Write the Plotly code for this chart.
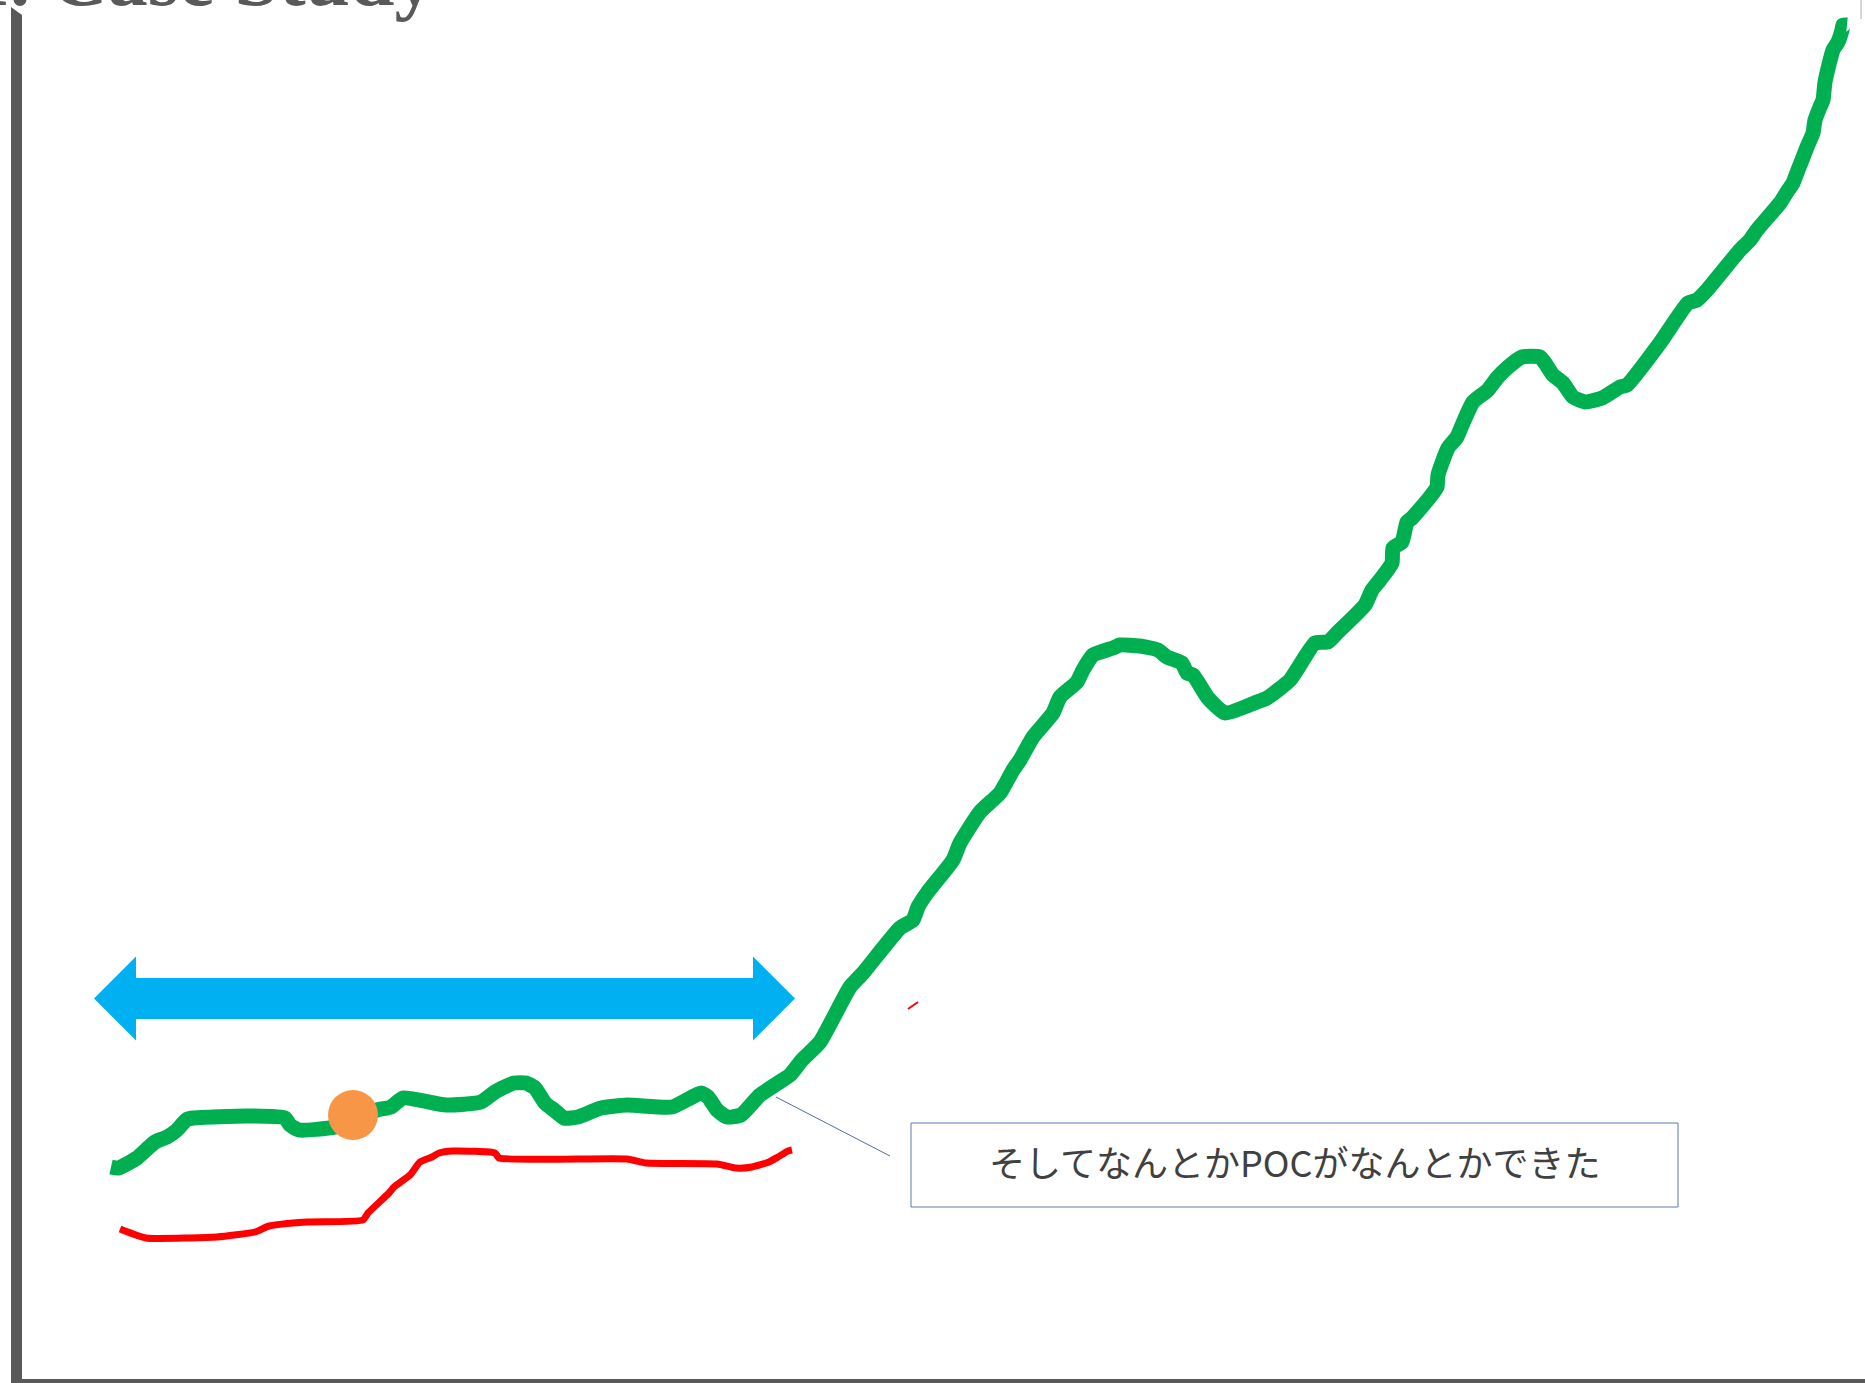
import plotly.graph_objects as go

# Canvas units: one unit per pixel of the slide, origin at bottom-left
W, H = 1865, 1383

# Growth curve (green)
growth_x = [111, 118, 137, 148, 155, 167, 177, 186, 193, 248, 285, 290, 299, 335, 377, 391, 403,
            446, 481, 495, 514, 526, 535, 545, 554, 564, 578, 601, 627, 672, 701, 708, 717, 727,
            741, 760, 778, 790, 802, 820, 850, 863, 900, 913, 918, 927, 953, 960, 980, 1000, 1013,
            1020, 1033, 1053, 1060, 1077, 1083, 1093, 1113, 1120, 1140, 1158, 1167, 1182, 1187,
            1193, 1208, 1225, 1257, 1267, 1290, 1315, 1328, 1337, 1365, 1372, 1380, 1392, 1393,
            1402, 1407, 1412, 1430, 1437, 1438, 1448, 1457, 1463, 1473, 1488, 1497, 1507, 1522,
            1540, 1545, 1553, 1563, 1573, 1585, 1602, 1620, 1627, 1660, 1688, 1697, 1707, 1740,
            1750, 1757, 1780, 1787, 1793, 1798, 1802, 1807, 1813, 1815, 1820, 1823, 1825, 1833,
            1838, 1842, 1843, 1847]
growth_y = [216, 215, 225, 235, 241, 246, 253, 263, 265, 267, 265, 258, 253, 256, 273, 276, 285,
            278, 281, 291, 300, 300, 295, 280, 273, 265, 266, 275, 278, 276, 290, 286, 273, 266,
            268, 288, 300, 308, 323, 341, 396, 410, 455, 463, 476, 490, 523, 540, 571, 590, 613,
            623, 646, 670, 686, 701, 713, 728, 735, 738, 737, 733, 726, 720, 710,
            708, 685, 670, 681, 685, 703, 740, 741, 750, 778, 793, 803, 820, 835,
            841, 861, 865, 886, 896, 908, 935, 946, 960, 981, 993, 1005, 1015, 1026,
            1026, 1020, 1008, 1000, 986, 981, 985, 996, 998, 1040, 1080, 1083, 1093, 1133,
            1143, 1153, 1180, 1191, 1200, 1213, 1223, 1236, 1250, 1263, 1276, 1283, 1301, 1333,
            1341, 1353, 1358, 1358]

# Baseline curve (red)
base_x = [120, 146, 189, 217, 255, 269, 307, 363, 368, 389, 394, 410, 420, 432, 439, 453, 495,
          499, 627, 646, 717, 736, 752, 769, 778, 788, 792]
base_y = [154, 145, 145, 146, 151, 157, 161, 163, 170, 190, 196, 208, 221, 226, 230, 232, 230,
          225, 224, 220, 219, 215, 216, 221, 226, 232, 233]

# Small red stroke
tick_x = [908, 918]
tick_y = [374, 381]

# Highlighted point on the green curve
marker_x = [353]
marker_y = [268]

# Double-headed span arrow: tips, centre line, shaft and head half-heights
span_left, span_right = 94, 795
span_center = 384.5
shaft_half, head_half, head_len = 20.5, 42, 42

# Callout box and its leader line
box_x = [911, 1678]
box_y = [176, 260]
leader_x = [776, 890]
leader_y = [286, 227]
callout_text = "そしてなんとかPOCがなんとかできた"

title_text = "1. Case Study"

GREEN = "#00B050"
RED = "#FF0000"
BLUE = "#00B0F0"
ORANGE = "#F79646"
AXIS = "#595959"

fig = go.Figure()

# Span arrow as a filled polygon
ax_ = [span_left,
       span_left + head_len, span_left + head_len,
       span_right - head_len, span_right - head_len,
       span_right,
       span_right - head_len, span_right - head_len,
       span_left + head_len, span_left + head_len,
       span_left]
ay_ = [span_center,
       span_center + head_half, span_center + shaft_half,
       span_center + shaft_half, span_center + head_half,
       span_center,
       span_center - head_half, span_center - shaft_half,
       span_center - shaft_half, span_center - head_half,
       span_center]
fig.add_trace(go.Scatter(x=ax_, y=ay_, mode="lines", fill="toself", fillcolor=BLUE,
                         line=dict(color=BLUE, width=0), hoverinfo="skip"))

fig.add_trace(go.Scatter(x=base_x, y=base_y, mode="lines",
                         line=dict(color=RED, width=7, shape="spline", smoothing=0.5),
                         hoverinfo="skip"))
fig.add_trace(go.Scatter(x=tick_x, y=tick_y, mode="lines",
                         line=dict(color=RED, width=2), hoverinfo="skip"))
fig.add_trace(go.Scatter(x=growth_x, y=growth_y, mode="lines",
                         line=dict(color=GREEN, width=15, shape="spline", smoothing=0.5),
                         hoverinfo="skip"))
fig.add_trace(go.Scatter(x=marker_x, y=marker_y, mode="markers",
                         marker=dict(color=ORANGE, size=50, line=dict(width=0)),
                         hoverinfo="skip"))
fig.add_trace(go.Scatter(x=leader_x, y=leader_y, mode="lines",
                         line=dict(color="#4F6FA0", width=1), hoverinfo="skip"))

shapes = [
    # callout frame
    dict(type="rect", xref="x", yref="y", x0=box_x[0], x1=box_x[1], y0=box_y[0], y1=box_y[1],
         line=dict(color="#5A7AAE", width=1), fillcolor="rgba(255,255,255,0)"),
    # vertical axis bar with slanted top
    dict(type="path", xref="x", yref="y",
         path="M 11,0 L 11,1376 L 22,1368 L 22,0 Z",
         fillcolor=AXIS, line=dict(width=0)),
    # horizontal axis bar
    dict(type="rect", xref="x", yref="y", x0=11, x1=W, y0=0, y1=4,
         fillcolor=AXIS, line=dict(width=0)),
    # frame edge at the upper right
    dict(type="line", xref="x", yref="y", x0=1861, x1=1861, y0=H, y1=H - 19,
         line=dict(color="#C8C8C8", width=1.5)),
]

annotations = [
    dict(text=callout_text, x=(box_x[0] + box_x[1]) / 2, y=(box_y[0] + box_y[1]) / 2 + 4,
         xref="x", yref="y", showarrow=False,
         font=dict(family="Noto Sans CJK JP", size=36, color="#404040")),
    dict(text="<b>" + title_text + "</b>", x=437, y=1, xref="x", yref="paper",
         xanchor="right", yanchor="bottom", yshift=-24, showarrow=False,
         font=dict(family="Liberation Serif", size=80, color=AXIS)),
]

fig.update_layout(
    width=W, height=H,
    margin=dict(l=0, r=0, t=0, b=0),
    paper_bgcolor="white", plot_bgcolor="white",
    showlegend=False,
    xaxis=dict(range=[0, W], visible=False, fixedrange=True),
    yaxis=dict(range=[0, H], visible=False, fixedrange=True),
    shapes=shapes,
    annotations=annotations,
)

fig.write_html("out.html")
